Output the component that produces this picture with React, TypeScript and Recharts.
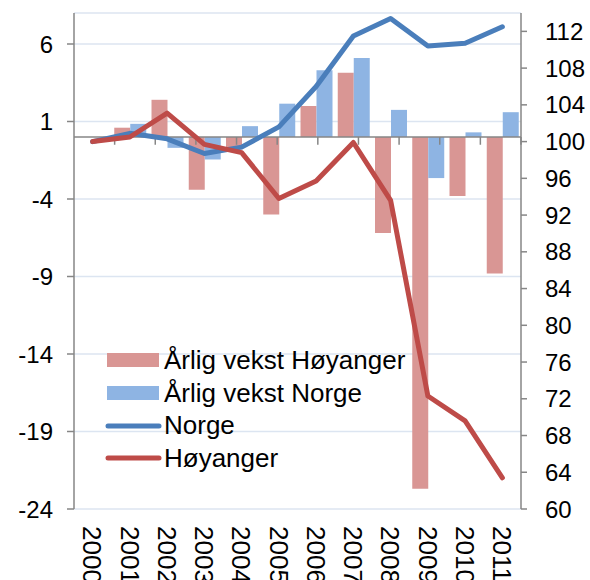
import {
  ComposedChart,
  Bar,
  Line,
  XAxis,
  YAxis,
  CartesianGrid,
  ReferenceLine,
  Legend,
} from 'recharts'

/* ─── Data ─────────────────────────────────────────────────────── */

const years = ['2000', '2001', '2002', '2003', '2004', '2005', '2006', '2007', '2008', '2009', '2010', '2011']

// årlig vekst i prosent (venstre akse)
const vekstHoyanger = [null, 0.6, 2.4, -3.4, -0.8, -5.0, 2.0, 4.15, -6.2, -22.7, -3.8, -8.8]
const vekstNorge = [null, 0.85, -0.7, -1.45, 0.7, 2.15, 4.3, 5.1, 1.75, -2.65, 0.3, 1.6]

// indeks 2000 = 100 (høyre akse)
const indeksNorge = [100, 100.9, 100.3, 98.7, 99.4, 101.6, 106.0, 111.5, 113.4, 110.4, 110.7, 112.5]
const indeksHoyanger = [100, 100.5, 103.1, 99.7, 98.8, 93.8, 95.7, 99.9, 93.6, 72.3, 69.6, 63.4]

const leftTicks = [-24, -19, -14, -9, -4, 1, 6]
const rightTicks = [60, 64, 68, 72, 76, 80, 84, 88, 92, 96, 100, 104, 108, 112]
const boundaries = [1, 2, 3, 4, 5, 6, 7, 8, 9, 10, 11]
const legendOrder = ['Årlig vekst Høyanger', 'Årlig vekst Norge', 'Norge', 'Høyanger']

const data = years.map((year, i) => ({
  year,
  vekstHoyanger: vekstHoyanger[i],
  vekstNorge: vekstNorge[i],
  indeksNorge: indeksNorge[i],
  indeksHoyanger: indeksHoyanger[i],
}))

/* ─── Theme ────────────────────────────────────────────────────── */

const FONT = '"Liberation Sans", Arial, sans-serif'
const AXIS_COLOR = '#868686'
const GRID_COLOR = '#dce5f1'
const RED_BAR = '#d99694'
const BLUE_BAR = '#8eb4e3'
const RED_LINE = '#be4b48'
const BLUE_LINE = '#4a7ebb'

/* ─── Pieces ───────────────────────────────────────────────────── */

function YearTick({ x, y, payload }: any) {
  return (
    <text
      x={x}
      y={y}
      dx={17}
      dy="0.36em"
      transform={`rotate(90, ${x}, ${y})`}
      textAnchor="start"
      fontSize={26}
      fontFamily={FONT}
      fill="#000"
    >
      {payload.value}
    </text>
  )
}

function LegendBox({ payload }: any) {
  const items = [...(payload || [])].sort(
    (a: any, b: any) => legendOrder.indexOf(a.value) - legendOrder.indexOf(b.value)
  )
  return (
    <div style={{ fontFamily: FONT, fontSize: 26, color: '#000' }}>
      {items.map((item: any) => {
        const isBar = item.type === 'rect'
        return (
          <div
            key={item.value}
            style={{ display: 'flex', alignItems: 'center', height: 32.7, whiteSpace: 'nowrap' }}
          >
            <svg width={59} height={20} style={{ flex: 'none' }}>
              {isBar ? (
                <rect x={2} y={3} width={52} height={14} fill={item.color} />
              ) : (
                <line x1={3} y1={10} x2={54} y2={10} stroke={item.color} strokeWidth={5} strokeLinecap="round" />
              )}
            </svg>
            <span>{item.value}</span>
          </div>
        )
      })}
    </div>
  )
}

/* ─── Chart ────────────────────────────────────────────────────── */

export default function App() {
  return (
    <div style={{ position: 'absolute', left: 0, top: 0, width: 590, height: 580, background: '#fff' }}>
      <ComposedChart
        width={590}
        height={580}
        data={data}
        margin={{ top: 13, right: 0, bottom: 0, left: 0 }}
        barSize={16}
        barGap={0}
      >
        <CartesianGrid yAxisId="left" horizontal vertical={false} stroke={GRID_COLOR} strokeWidth={1.5} />
        <XAxis
          dataKey="year"
          height={71}
          axisLine={false}
          tickLine={false}
          tickSize={0}
          tickMargin={0}
          interval={0}
          tick={<YearTick />}
        />
        <XAxis xAxisId="num" type="number" domain={[0, 12]} hide />
        <YAxis
          yAxisId="left"
          orientation="left"
          width={74}
          domain={[-24, 8]}
          ticks={leftTicks}
          interval={0}
          tick={{ fill: '#000', fontSize: 24, fontFamily: FONT }}
          tickSize={7}
          tickMargin={14}
          axisLine={{ stroke: AXIS_COLOR, strokeWidth: 1.5 }}
          tickLine={{ stroke: AXIS_COLOR, strokeWidth: 1.5 }}
        />
        <YAxis
          yAxisId="right"
          orientation="right"
          width={69}
          domain={[60, 114]}
          ticks={rightTicks}
          interval={0}
          tick={{ fill: '#000', fontSize: 24, fontFamily: FONT, textAnchor: 'start' }}
          tickSize={6}
          tickMargin={18}
          axisLine={{ stroke: AXIS_COLOR, strokeWidth: 1.5 }}
          tickLine={{ stroke: AXIS_COLOR, strokeWidth: 1.5 }}
        />
        <Bar
          yAxisId="left"
          dataKey="vekstHoyanger"
          name="Årlig vekst Høyanger"
          fill={RED_BAR}
          isAnimationActive={false}
        />
        <Bar
          yAxisId="left"
          dataKey="vekstNorge"
          name="Årlig vekst Norge"
          fill={BLUE_BAR}
          isAnimationActive={false}
        />
        <ReferenceLine yAxisId="left" y={0} stroke={AXIS_COLOR} strokeWidth={1.5} />
        {boundaries.map((b) => (
          <ReferenceLine
            key={b}
            yAxisId="left"
            xAxisId="num"
            segment={[{ x: b, y: 0 }, { x: b, y: -0.5 }]}
            stroke={AXIS_COLOR}
            strokeWidth={1.5}
          />
        ))}
        <Line
          yAxisId="right"
          dataKey="indeksNorge"
          name="Norge"
          stroke={BLUE_LINE}
          strokeWidth={5}
          strokeLinecap="round"
          strokeLinejoin="round"
          dot={false}
          legendType="line"
          isAnimationActive={false}
        />
        <Line
          yAxisId="right"
          dataKey="indeksHoyanger"
          name="Høyanger"
          stroke={RED_LINE}
          strokeWidth={5}
          strokeLinecap="round"
          strokeLinejoin="round"
          dot={false}
          legendType="line"
          isAnimationActive={false}
        />
        <Legend
          layout="horizontal"
          verticalAlign="middle"
          align="center"
          content={<LegendBox />}
          wrapperStyle={{ position: 'absolute', left: 105, top: 344, width: 'auto', height: 'auto' }}
        />
      </ComposedChart>
    </div>
  )
}
